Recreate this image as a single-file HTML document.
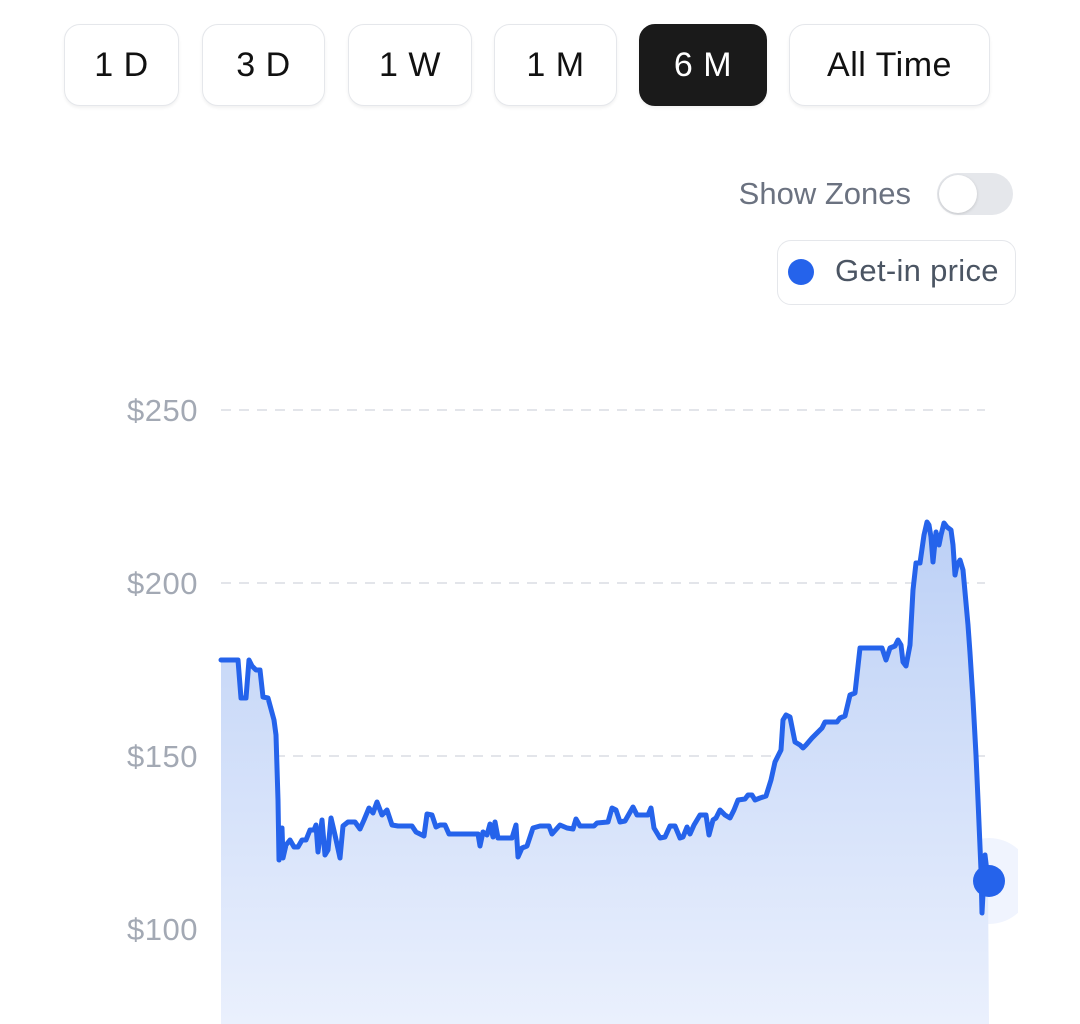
<!DOCTYPE html>
<html><head><meta charset="utf-8"><style>
html,body{margin:0;padding:0;background:#fff;width:1080px;height:1024px;overflow:hidden;font-family:"Liberation Sans",sans-serif;}
.btn{position:absolute;top:24px;height:82px;border:1.5px solid #e5e7eb;border-radius:16px;box-sizing:border-box;display:flex;align-items:center;justify-content:center;font-size:34px;letter-spacing:0.5px;color:#111;background:#fff;box-shadow:0 2px 3px rgba(0,0,0,0.06);}
.act{background:#1a1a1a;color:#fff;border-color:#1a1a1a;}
.yl{position:absolute;right:882px;font-size:31px;letter-spacing:0.5px;color:#a3a9b4;}
</style></head><body>
<div class="btn" style="left:64px;width:115px">1 D</div>
<div class="btn" style="left:202px;width:123px">3 D</div>
<div class="btn" style="left:348px;width:124px">1 W</div>
<div class="btn" style="left:494px;width:123px">1 M</div>
<div class="btn act" style="left:639px;width:128px">6 M</div>
<div class="btn" style="left:789px;width:201px">All Time</div>
<div style="position:absolute;left:650px;width:261px;text-align:right;top:176px;font-size:31px;color:#6b7280">Show Zones</div>
<div style="position:absolute;left:937px;top:173px;width:76px;height:42px;border-radius:21px;background:#e5e7eb"><div style="position:absolute;left:2px;top:2px;width:38px;height:38px;border-radius:50%;background:#fff;box-shadow:0 1px 3px rgba(0,0,0,0.15)"></div></div>
<div style="position:absolute;left:777px;top:240px;width:239px;height:65px;box-sizing:border-box;border:1.5px solid #e5e7eb;border-radius:14px;"></div>
<div style="position:absolute;left:788px;top:259px;width:26px;height:26px;border-radius:50%;background:#2563eb"></div>
<div style="position:absolute;left:835px;top:253px;font-size:31px;letter-spacing:0.3px;color:#4b5563">Get-in price</div>
<div class="yl" style="top:393px">$250</div>
<div class="yl" style="top:566px">$200</div>
<div class="yl" style="top:739px">$150</div>
<div class="yl" style="top:912px">$100</div>
<svg width="1080" height="1024" style="position:absolute;left:0;top:0">
<defs><linearGradient id="g" x1="0" y1="520" x2="0" y2="1024" gradientUnits="userSpaceOnUse"><stop offset="0" stop-color="#bcd0f6"/><stop offset="1" stop-color="#eaf0fd"/></linearGradient>
<clipPath id="c"><rect x="0" y="0" width="1018" height="1024"/></clipPath></defs>
<g stroke="#e3e5ea" stroke-width="2" stroke-dasharray="10 8"><line x1="221" y1="410" x2="985" y2="410"/><line x1="221" y1="583" x2="985" y2="583"/><line x1="221" y1="756" x2="985" y2="756"/><line x1="221" y1="929" x2="985" y2="929"/></g>
<circle cx="989" cy="881" r="43" fill="#2563eb" fill-opacity="0.07" clip-path="url(#c)"/>
<path fill="url(#g)" d="M221,660 L238,660 241,698 246,698 249,660 252,666 256,670 260,670 263,697 268,698 274,720 276,735 278,800 279,860 282,828 283,858 286,845 290,840 294,847 298,847 302,840 306,840 310,830 314,830 316,825 318,852 322,820 325,855 328,850 331,818 335,835 340,858 343,826 348,822 355,822 360,829 364,820 369,808 373,813 377,802 382,815 387,810 392,825 398,826 412,826 416,832 424,836 427,814 432,815 436,827 440,825 445,825 449,834 478,834 480,846 483,832 487,835 490,824 493,837 495,822 498,838 512,838 516,825 518,857 522,848 527,846 533,828 540,826 549,826 552,834 560,825 567,828 573,829 576,819 580,826 594,826 597,823 608,822 612,808 616,810 620,822 625,821 633,807 637,815 648,815 651,808 654,828 660,838 665,837 670,826 675,826 680,838 683,837 687,827 690,834 694,825 700,815 706,815 709,835 713,820 716,818 720,810 725,815 730,818 734,810 738,800 745,799 748,795 752,795 755,800 760,798 766,796 771,780 775,762 781,750 783,720 786,715 790,717 795,742 800,745 803,748 806,745 812,738 818,732 822,728 825,722 837,722 840,718 845,716 850,695 855,693 860,648 882,648 886,660 890,648 895,646 898,640 901,645 903,662 906,666 910,645 913,590 916,563 920,563 924,535 927,522 929,525 931,537 933,562 936,532 939,545 941,535 944,523 947,527 951,530 953,545 955,575 957,565 960,560 963,570 968,625 970,653 973,700 976,755 978,800 981,870 982,913 985,855 988,880 L989,1024 L221,1024 Z"/>
<polyline fill="none" stroke="#2563eb" stroke-width="5" stroke-linejoin="round" stroke-linecap="round" points="221,660 238,660 241,698 246,698 249,660 252,666 256,670 260,670 263,697 268,698 274,720 276,735 278,800 279,860 282,828 283,858 286,845 290,840 294,847 298,847 302,840 306,840 310,830 314,830 316,825 318,852 322,820 325,855 328,850 331,818 335,835 340,858 343,826 348,822 355,822 360,829 364,820 369,808 373,813 377,802 382,815 387,810 392,825 398,826 412,826 416,832 424,836 427,814 432,815 436,827 440,825 445,825 449,834 478,834 480,846 483,832 487,835 490,824 493,837 495,822 498,838 512,838 516,825 518,857 522,848 527,846 533,828 540,826 549,826 552,834 560,825 567,828 573,829 576,819 580,826 594,826 597,823 608,822 612,808 616,810 620,822 625,821 633,807 637,815 648,815 651,808 654,828 660,838 665,837 670,826 675,826 680,838 683,837 687,827 690,834 694,825 700,815 706,815 709,835 713,820 716,818 720,810 725,815 730,818 734,810 738,800 745,799 748,795 752,795 755,800 760,798 766,796 771,780 775,762 781,750 783,720 786,715 790,717 795,742 800,745 803,748 806,745 812,738 818,732 822,728 825,722 837,722 840,718 845,716 850,695 855,693 860,648 882,648 886,660 890,648 895,646 898,640 901,645 903,662 906,666 910,645 913,590 916,563 920,563 924,535 927,522 929,525 931,537 933,562 936,532 939,545 941,535 944,523 947,527 951,530 953,545 955,575 957,565 960,560 963,570 968,625 970,653 973,700 976,755 978,800 981,870 982,913 985,855 988,880"/>
<circle cx="989" cy="881" r="16" fill="#2563eb"/>
</svg>
</body></html>
